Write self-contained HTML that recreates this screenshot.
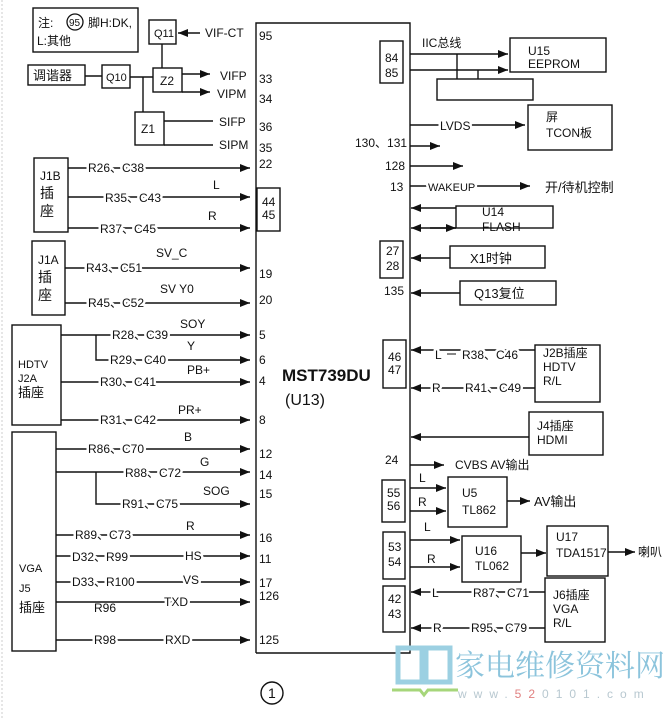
<!DOCTYPE html>
<html><head><meta charset="utf-8"><style>
html,body{margin:0;padding:0;background:#fff;}
svg{display:block;}
text{font-family:"Liberation Sans","Noto Sans CJK SC",sans-serif;fill:#111;}
.l{stroke:#fff;stroke-width:5px;paint-order:stroke;stroke-linejoin:round;}
</style></head><body>
<svg width="669" height="718" viewBox="0 0 669 718" xmlns="http://www.w3.org/2000/svg" font-size="12">
<defs>
<marker id="a" markerWidth="10" markerHeight="8" refX="10" refY="4" orient="auto" markerUnits="userSpaceOnUse"><polygon points="0,0 10,4 0,8" fill="#111"/></marker>
</defs>
<line x1="2" y1="0" x2="2" y2="718" stroke="#ccc" stroke-dasharray="2,2"/>
<g fill="none" stroke="#111" stroke-width="1.4">
<polyline points="256,653 256,23 410,23 410,653 256,653"/>
<rect x="33" y="8" width="105" height="44"/>
<rect x="149" y="20" width="27" height="24"/>
<rect x="28" y="65" width="57" height="20"/>
<rect x="102" y="65" width="28" height="23"/>
<rect x="153" y="68" width="29" height="24"/>
<rect x="135" y="112" width="29" height="33"/>
<line x1="85" y1="76" x2="102" y2="76"/>
<line x1="130" y1="77" x2="153" y2="77"/>
<line x1="143" y1="77" x2="143" y2="112"/>
<line x1="162" y1="44" x2="162" y2="68"/>
<line x1="200" y1="33" x2="178" y2="33" marker-end="url(#a)"/>
<line x1="182" y1="74" x2="210" y2="74" marker-end="url(#a)"/>
<line x1="182" y1="92" x2="210" y2="92" marker-end="url(#a)"/>
<line x1="164" y1="121" x2="213" y2="121"/>
<line x1="164" y1="145" x2="213" y2="145"/>
<rect x="34" y="158" width="34" height="74"/>
<line x1="68" y1="168" x2="250" y2="168" marker-end="url(#a)"/>
<line x1="68" y1="197" x2="250" y2="197" marker-end="url(#a)"/>
<line x1="68" y1="228" x2="250" y2="228" marker-end="url(#a)"/>
<rect x="257" y="188" width="23" height="43"/>
<rect x="32" y="241" width="33" height="74"/>
<line x1="65" y1="268" x2="250" y2="268" marker-end="url(#a)"/>
<line x1="65" y1="303" x2="250" y2="303" marker-end="url(#a)"/>
<rect x="12" y="325" width="49" height="100"/>
<line x1="61" y1="335" x2="250" y2="335" marker-end="url(#a)"/>
<polyline points="96,335 96,360 250,360" marker-end="url(#a)"/>
<line x1="61" y1="382" x2="250" y2="382" marker-end="url(#a)"/>
<line x1="61" y1="420" x2="250" y2="420" marker-end="url(#a)"/>
<rect x="12" y="432" width="44" height="219"/>
<line x1="56" y1="449" x2="250" y2="449" marker-end="url(#a)"/>
<line x1="56" y1="472" x2="250" y2="472" marker-end="url(#a)"/>
<polyline points="96,472 96,504 250,504" marker-end="url(#a)"/>
<line x1="56" y1="535" x2="250" y2="535" marker-end="url(#a)"/>
<line x1="56" y1="556" x2="250" y2="556" marker-end="url(#a)"/>
<line x1="56" y1="582" x2="250" y2="582" marker-end="url(#a)"/>
<line x1="56" y1="602" x2="250" y2="602" marker-end="url(#a)"/>
<line x1="56" y1="640" x2="250" y2="640" marker-end="url(#a)"/>
<rect x="380" y="41" width="23" height="42"/>
<rect x="510" y="38" width="96" height="34"/>
<rect x="437" y="79" width="96" height="21"/>
<line x1="410" y1="54" x2="508" y2="54" marker-end="url(#a)"/>
<line x1="410" y1="70" x2="508" y2="70" marker-end="url(#a)"/>
<line x1="457" y1="54" x2="457" y2="79"/>
<line x1="478" y1="70" x2="478" y2="79"/>
<rect x="528" y="105" width="84" height="45"/>
<line x1="410" y1="125" x2="525" y2="125" marker-end="url(#a)"/>
<line x1="410" y1="146" x2="440" y2="146" marker-end="url(#a)"/>
<line x1="410" y1="166" x2="463" y2="166" marker-end="url(#a)"/>
<line x1="410" y1="186" x2="530" y2="186" marker-end="url(#a)"/>
<rect x="456" y="206" width="97" height="22"/>
<line x1="456" y1="208" x2="411" y2="208" marker-end="url(#a)"/>
<line x1="456" y1="228" x2="411" y2="228" marker-end="url(#a)"/>
<line x1="430" y1="228" x2="456" y2="228" marker-end="url(#a)"/>
<rect x="380" y="241" width="23" height="37"/>
<rect x="450" y="246" width="95" height="22"/>
<line x1="450" y1="258" x2="411" y2="258" marker-end="url(#a)"/>
<rect x="460" y="281" width="96" height="24"/>
<line x1="460" y1="293" x2="411" y2="293" marker-end="url(#a)"/>
<rect x="383" y="340" width="23" height="48"/>
<rect x="535" y="345" width="65" height="57"/>
<line x1="535" y1="350" x2="411" y2="350" marker-end="url(#a)"/>
<line x1="535" y1="388" x2="411" y2="388" marker-end="url(#a)"/>
<rect x="529" y="412" width="74" height="43"/>
<line x1="529" y1="437" x2="411" y2="437" marker-end="url(#a)"/>
<line x1="410" y1="465" x2="444" y2="465" marker-end="url(#a)"/>
<rect x="382" y="480" width="23" height="42"/>
<rect x="448" y="477" width="59" height="50"/>
<line x1="410" y1="488" x2="446" y2="488" marker-end="url(#a)"/>
<line x1="410" y1="511" x2="446" y2="511" marker-end="url(#a)"/>
<line x1="507" y1="501" x2="530" y2="501" marker-end="url(#a)"/>
<rect x="383" y="532" width="22" height="47"/>
<rect x="462" y="536" width="59" height="46"/>
<line x1="410" y1="540" x2="460" y2="540" marker-end="url(#a)"/>
<line x1="410" y1="567" x2="460" y2="567" marker-end="url(#a)"/>
<rect x="547" y="526" width="61" height="50"/>
<line x1="521" y1="553" x2="546" y2="553" marker-end="url(#a)"/>
<line x1="608" y1="552" x2="635" y2="552" marker-end="url(#a)"/>
<rect x="545" y="578" width="60" height="64"/>
<rect x="383" y="586" width="22" height="46"/>
<line x1="545" y1="592" x2="411" y2="592" marker-end="url(#a)"/>
<line x1="545" y1="628" x2="411" y2="628" marker-end="url(#a)"/>
<circle cx="272" cy="693" r="11"/>
</g>
<g>
<text x="38" y="27">注:</text>
<circle cx="75" cy="22" r="8" fill="none" stroke="#111" stroke-width="1.3"/>
<text x="69" y="26" font-size="10">95</text>
<text x="88" y="27">脚H:DK,</text>
<text x="37" y="45">L:其他</text>
<text x="154" y="37" font-size="11">Q11</text>
<text x="205" y="37">VIF-CT</text>
<text x="33" y="80" font-size="13">调谐器</text>
<text x="106" y="81" font-size="11">Q10</text>
<text x="160" y="85">Z2</text>
<text x="141" y="133">Z1</text>
<text x="220" y="80">VIFP</text>
<text x="217" y="98">VIPM</text>
<text x="219" y="126">SIFP</text>
<text x="219" y="149">SIPM</text>
<text x="259" y="40">95</text>
<text x="259" y="83">33</text>
<text x="259" y="103">34</text>
<text x="259" y="131">36</text>
<text x="259" y="152">35</text>
<text x="259" y="168">22</text>
<text x="262" y="206">44</text>
<text x="262" y="219">45</text>
<text x="259" y="278">19</text>
<text x="259" y="304">20</text>
<text x="259" y="339">5</text>
<text x="259" y="364">6</text>
<text x="259" y="385">4</text>
<text x="259" y="424">8</text>
<text x="259" y="458">12</text>
<text x="259" y="479">14</text>
<text x="259" y="498">15</text>
<text x="259" y="542">16</text>
<text x="259" y="563">11</text>
<text x="259" y="587">17</text>
<text x="259" y="600">126</text>
<text x="259" y="644">125</text>
<text x="40" y="180">J1B</text>
<text x="40" y="198" font-size="14">插</text>
<text x="40" y="216" font-size="14">座</text>
<text x="38" y="264">J1A</text>
<text x="38" y="282" font-size="14">插</text>
<text x="38" y="300" font-size="14">座</text>
<text x="18" y="368" font-size="11">HDTV</text>
<text x="18" y="382" font-size="11">J2A</text>
<text x="18" y="397" font-size="13">插座</text>
<text x="19" y="572" font-size="11">VGA</text>
<text x="19" y="592" font-size="11">J5</text>
<text x="19" y="612" font-size="13">插座</text>
<text class="l" x="88" y="172">R26、C38</text>
<text class="l" x="105" y="202">R35、C43</text>
<text x="213" y="189">L</text>
<text class="l" x="100" y="233">R37、C45</text>
<text x="208" y="220">R</text>
<text class="l" x="86" y="272">R43、C51</text>
<text x="156" y="257">SV_C</text>
<text class="l" x="88" y="307">R45、C52</text>
<text x="160" y="293">SV Y0</text>
<text class="l" x="112" y="339">R28、C39</text>
<text x="180" y="328">SOY</text>
<text class="l" x="110" y="364">R29、C40</text>
<text x="187" y="350">Y</text>
<text class="l" x="100" y="386">R30、C41</text>
<text x="187" y="374">PB+</text>
<text class="l" x="100" y="424">R31、C42</text>
<text x="178" y="414">PR+</text>
<text class="l" x="88" y="453">R86、C70</text>
<text x="184" y="441">B</text>
<text class="l" x="125" y="477">R88、C72</text>
<text x="200" y="466">G</text>
<text class="l" x="122" y="508">R91、C75</text>
<text x="203" y="495">SOG</text>
<text class="l" x="75" y="539">R89、C73</text>
<text x="186" y="530">R</text>
<text class="l" x="72" y="561">D32、R99</text>
<text class="l" x="185" y="560">HS</text>
<text class="l" x="72" y="586">D33、R100</text>
<text class="l" x="183" y="584">VS</text>
<text x="94" y="612">R96</text>
<text class="l" x="164" y="606">TXD</text>
<text class="l" x="94" y="644">R98</text>
<text class="l" x="165" y="644">RXD</text>
<text x="282" y="381" font-size="17" font-weight="bold">MST739DU</text>
<text x="285" y="405" font-size="16">(U13)</text>
<text x="385" y="62">84</text>
<text x="385" y="77">85</text>
<text x="422" y="47">IIC总线</text>
<text x="528" y="55">U15</text>
<text x="528" y="68">EEPROM</text>
<text class="l" x="440" y="130">LVDS</text>
<text x="546" y="121">屏</text>
<text x="546" y="137">TCON板</text>
<text x="355" y="147">130、131</text>
<text x="385" y="170">128</text>
<text x="390" y="191">13</text>
<text class="l" x="428" y="191" font-size="11">WAKEUP</text>
<text x="545" y="192" font-size="13">开/待机控制</text>
<text x="482" y="216">U14</text>
<text x="482" y="231">FLASH</text>
<text x="386" y="255">27</text>
<text x="386" y="270">28</text>
<text x="470" y="263" font-size="13">X1时钟</text>
<text x="384" y="295">135</text>
<text x="474" y="298" font-size="13">Q13复位</text>
<text x="388" y="361">46</text>
<text x="388" y="374">47</text>
<text class="l" x="435" y="359">L</text>
<text class="l" x="462" y="359">R38、C46</text>
<text class="l" x="432" y="392">R</text>
<text class="l" x="465" y="392">R41、C49</text>
<line x1="447" y1="354" x2="456" y2="354" stroke="#111"/>
<text x="543" y="357">J2B插座</text>
<text x="543" y="371">HDTV</text>
<text x="543" y="385">R/L</text>
<text x="537" y="430">J4插座</text>
<text x="537" y="444">HDMI</text>
<text x="385" y="464">24</text>
<text x="455" y="469">CVBS AV输出</text>
<text x="419" y="482">L</text>
<text x="418" y="506">R</text>
<text x="387" y="497">55</text>
<text x="387" y="510">56</text>
<text x="462" y="497">U5</text>
<text x="462" y="514">TL862</text>
<text x="534" y="506" font-size="13">AV输出</text>
<text x="424" y="531">L</text>
<text x="427" y="563">R</text>
<text x="388" y="551">53</text>
<text x="388" y="566">54</text>
<text x="475" y="555">U16</text>
<text x="475" y="570">TL062</text>
<text x="556" y="541">U17</text>
<text x="556" y="557">TDA1517</text>
<text x="638" y="556">喇叭</text>
<text x="388" y="603">42</text>
<text x="388" y="618">43</text>
<text class="l" x="432" y="597">L</text>
<text class="l" x="473" y="597">R87、C71</text>
<text class="l" x="433" y="632">R</text>
<text class="l" x="471" y="632">R95、C79</text>
<text x="553" y="599">J6插座</text>
<text x="553" y="613">VGA</text>
<text x="553" y="627">R/L</text>
<text x="268" y="698" font-size="14">1</text>
</g>
<g fill="none" stroke="#9cd0e2" stroke-width="5">
<path d="M398,648 L422,648 L422,682 L398,682 Z"/>
<path d="M426,648 L450,648 L450,682 L426,682 Z"/>
</g>
<path d="M392,690 L420,690 L424,695 L428,690 L458,690" stroke="#a6d67a" stroke-width="3" fill="none"/>
<text x="455" y="676" font-size="30" style="fill:#8cc4dc;font-family:'Noto Serif CJK SC','Noto Sans CJK SC',serif">家电维修资料网</text>
<text x="458" y="698" font-size="12" letter-spacing="7" style="fill:#b8c8d0">www.<tspan style="fill:#e08080">52</tspan>0101.com</text>
</svg>
</body></html>
